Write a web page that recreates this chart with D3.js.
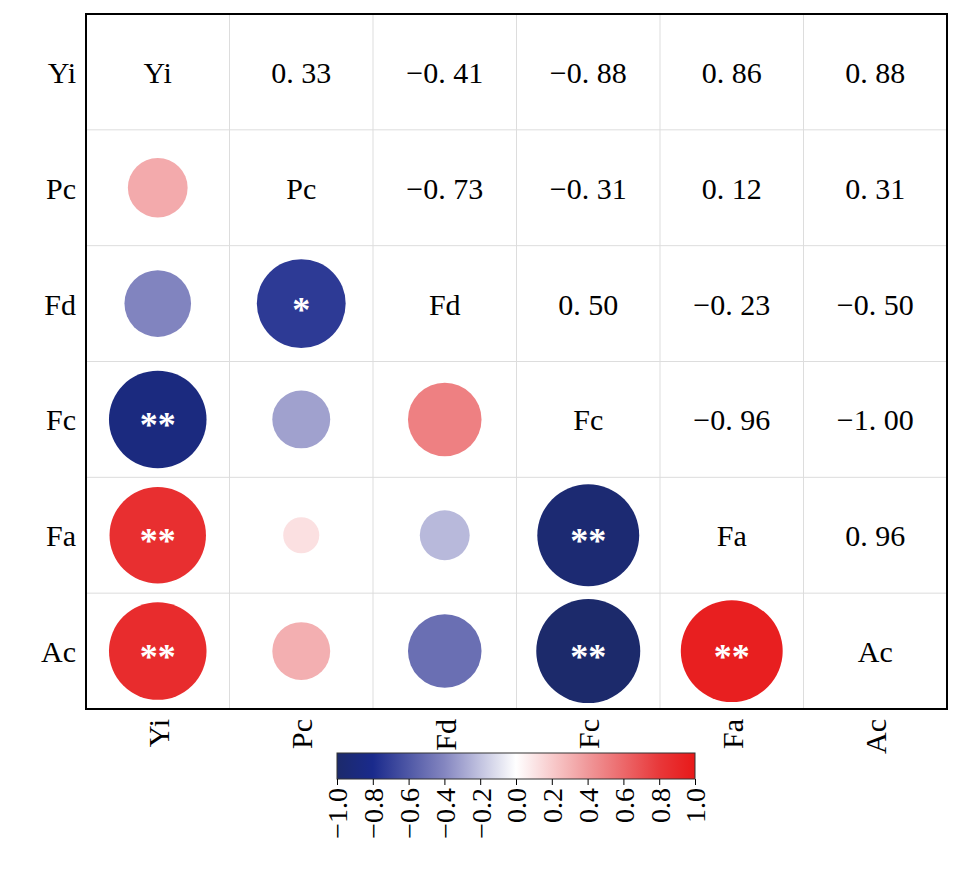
<!DOCTYPE html>
<html><head><meta charset="utf-8">
<script src="https://cdn.jsdelivr.net/npm/d3@7"></script>
<style>body{margin:0;background:#fff}</style>
</head><body>
<script>
var svgWidth = 972, svgHeight = 882;
var margin = {left: 86, top: 14, right: 25, bottom: 173};
var width = svgWidth - margin.left - margin.right;
var height = svgHeight - margin.top - margin.bottom;
var font = "'Liberation Serif', serif";

var vars = ["Yi", "Pc", "Fd", "Fc", "Fa", "Ac"];
var corr = [
  [1, 0.33, -0.41, -0.88, 0.86, 0.88],
  [0.33, 1, -0.73, -0.31, 0.12, 0.31],
  [-0.41, -0.73, 1, 0.50, -0.23, -0.50],
  [-0.88, -0.31, 0.50, 1, -0.96, -1.00],
  [0.86, 0.12, -0.23, -0.96, 1, 0.96],
  [0.88, 0.31, -0.50, -1.00, 0.96, 1]
];
var stars = {"2,1": "*", "3,0": "**", "4,0": "**", "4,3": "**", "5,0": "**", "5,3": "**", "5,4": "**"};

var svg = d3.select("body").append("svg")
  .attr("width", svgWidth).attr("height", svgHeight);
var g = svg.append("g").attr("transform", "translate(" + margin.left + "," + margin.top + ")");

var x = d3.scaleBand().domain(vars).range([0, width]);
var y = d3.scaleBand().domain(vars).range([0, height]);
var color = d3.scaleLinear()
  .domain([-1, -0.8, -0.4, 0, 0.4, 0.8, 1])
  .range(["#1c2a6b", "#1a2a8c", "#8486c0", "#ffffff", "#f0989a", "#e8383a", "#e81919"]);
var rad = d3.scaleSqrt().domain([0, 1]).range([0, 52]);

// grid
vars.forEach(function(v, i) {
  if (i > 0) {
    g.append("line").attr("x1", x(v)).attr("x2", x(v)).attr("y1", 0).attr("y2", height).attr("stroke", "#ddd");
    g.append("line").attr("y1", y(v)).attr("y2", y(v)).attr("x1", 0).attr("x2", width).attr("stroke", "#ddd");
  }
});

var cells = [];
corr.forEach(function(row, i) { row.forEach(function(v, j) { cells.push({i: i, j: j, v: v}); }); });

cells.forEach(function(d) {
  var cx = x(vars[d.j]) + x.bandwidth() / 2, cy = y(vars[d.i]) + y.bandwidth() / 2;
  if (d.i == d.j) {
    g.append("text").attr("x", cx).attr("y", cy + 11).attr("text-anchor", "middle")
      .style("font-family", font).style("font-size", "30px").text(vars[d.i]);
  } else if (d.j > d.i) {
    g.append("text").attr("x", cx).attr("y", cy + 11).attr("text-anchor", "middle")
      .style("font-family", font).style("font-size", "30px")
      .text(d.v.toFixed(2).replace("-", "\u2212").replace(".", ". "));
  } else {
    g.append("circle").attr("cx", cx).attr("cy", cy).attr("r", rad(Math.abs(d.v)))
      .attr("fill", color(d.v));
    var s = stars[d.i + "," + d.j];
    if (s) g.append("text").attr("x", cx).attr("y", cy + 18).attr("text-anchor", "middle")
      .attr("fill", "#fff").style("font-family", font).style("font-size", "36px").style("font-weight", "bold").text(s);
  }
});

g.append("rect").attr("width", width).attr("height", height).attr("fill", "none").attr("stroke", "#000").attr("stroke-width", 2);

// axes labels
vars.forEach(function(v) {
  g.append("text").attr("x", -10).attr("y", y(v) + y.bandwidth() / 2 + 11).attr("text-anchor", "end")
    .style("font-family", font).style("font-size", "30px").text(v);
  g.append("text").attr("transform", "translate(" + (x(v) + x.bandwidth() / 2 + 11) + "," + (height + 10) + ") rotate(-90)")
    .attr("text-anchor", "end").style("font-family", font).style("font-size", "30px").text(v);
});

// colorbar
var cbX = 337, cbW = 358, cbY = 753, cbH = 26;
var defs = svg.append("defs");
var grad = defs.append("linearGradient").attr("id", "cb");
d3.range(0, 1.0001, 0.05).forEach(function(t) {
  grad.append("stop").attr("offset", t).attr("stop-color", color(-1 + 2 * t));
});
svg.append("rect").attr("x", cbX).attr("y", cbY).attr("width", cbW).attr("height", cbH)
  .attr("fill", "url(#cb)").attr("stroke", "#333");
var cs = d3.scaleLinear().domain([-1, 1]).range([cbX, cbX + cbW]);
var ax = svg.append("g").attr("transform", "translate(0," + (cbY + cbH) + ")")
  .call(d3.axisBottom(cs).tickValues(d3.range(-1, 1.01, 0.2)).tickSize(6).tickFormat(d3.format(".1f")));
ax.select(".domain").remove();
ax.selectAll("text").attr("transform", "rotate(-90)").attr("text-anchor", "end")
  .attr("x", -9).attr("y", 0).attr("dy", "0.35em")
  .style("font-family", font).style("font-size", "28px");
</script>
</body></html>
